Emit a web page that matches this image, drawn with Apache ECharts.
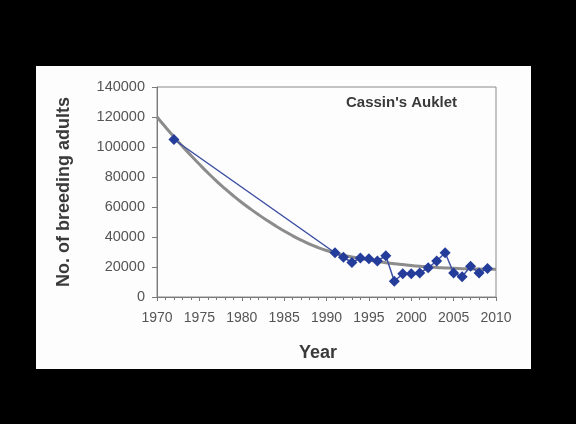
<!DOCTYPE html>
<html>
<head>
<meta charset="utf-8">
<script src="https://cdn.jsdelivr.net/npm/echarts@6/dist/echarts.min.js"></script>
<style>
  html, body { margin: 0; padding: 0; background: #000; }
  #chart { width: 576px; height: 424px; }
</style>
</head>
<body>
<div id="chart"></div>
<script>
// Cassin's Auklet breeding population counts
const years = [1972, 1991, 1992, 1993, 1994, 1995, 1996, 1997, 1998, 1999,
               2000, 2001, 2002, 2003, 2004, 2005, 2006, 2007, 2008, 2009];
const adults = [105000, 29500, 26500, 23000, 26000, 25500, 24000, 27500, 10500, 15500,
                15500, 16000, 19500, 24000, 29500, 16000, 13500, 20500, 16000, 19000];

// Fitted trend, one value per year
const trendYears = [1970, 1971, 1972, 1973, 1974, 1975, 1976, 1977, 1978, 1979,
                    1980, 1981, 1982, 1983, 1984, 1985, 1986, 1987, 1988, 1989,
                    1990, 1991, 1992, 1993, 1994, 1995, 1996, 1997, 1998, 1999,
                    2000, 2001, 2002, 2003, 2004, 2005, 2006, 2007, 2008, 2009, 2010];
const trendValues = [120000, 113300, 106800, 100500, 94400, 88500, 82800, 77400, 72300, 67500,
                     63000, 58800, 54800, 51000, 47400, 44000, 40800, 37900, 35300, 33000,
                     31000, 29300, 27900, 26700, 25600, 24600, 23700, 22900, 22200, 21600,
                     21000, 20500, 20100, 19700, 19400, 19100, 18900, 18700, 18600, 18500, 18500];

const yTicks = [0, 20000, 40000, 60000, 80000, 100000, 120000, 140000];
const xTicks = [1970, 1975, 1980, 1985, 1990, 1995, 2000, 2005, 2010];

const chart = echarts.init(document.getElementById('chart'), null, { renderer: 'canvas' });
const font = '"Liberation Sans", Arial, sans-serif';

chart.setOption({
  backgroundColor: '#000',
  animation: false,
  graphic: [
    { type: 'rect', z: -10, shape: { x: 36, y: 66, width: 495, height: 303 },
      style: { fill: '#fdfdfd' } },
    { type: 'text', left: 299, top: 344, z: 10,
      style: { text: 'Year', font: 'bold 18px ' + font, fill: '#3a3a3a' } },
    { type: 'text', left: 346, top: 95, z: 10,
      style: { text: "Cassin's Auklet", font: 'bold 15px ' + font, fill: '#3a3a3a' } }
  ],
  grid: {
    left: 157, top: 87, width: 339, height: 210,
    show: true, borderColor: '#8a8a8a', borderWidth: 1, backgroundColor: 'transparent'
  },
  xAxis: {
    type: 'value', min: xTicks[0], max: xTicks[xTicks.length - 1], interval: 5,
    axisLine: { show: true, lineStyle: { color: '#7a7a7a', width: 1 } },
    axisTick: { show: true, length: 4, lineStyle: { color: '#7a7a7a' } },
    minorTick: { show: true, splitNumber: 5, length: 3, lineStyle: { color: '#7a7a7a' } },
    splitLine: { show: false },
    axisLabel: { color: '#555', fontFamily: font, fontSize: 14, margin: 14,
                 formatter: v => String(v) }
  },
  yAxis: {
    type: 'value', min: yTicks[0], max: yTicks[yTicks.length - 1], interval: 20000,
    name: 'No. of breeding adults', nameLocation: 'middle', nameGap: 84, nameRotate: 90,
    nameTextStyle: { color: '#3a3a3a', fontFamily: font, fontSize: 18, fontWeight: 'bold' },
    axisLine: { show: true, lineStyle: { color: '#7a7a7a', width: 1 } },
    axisTick: { show: true, length: 5, lineStyle: { color: '#7a7a7a' } },
    splitLine: { show: false },
    axisLabel: { color: '#555', fontFamily: font, fontSize: 14.5, margin: 12,
                 formatter: v => String(v) }
  },
  series: [
    {
      name: 'trend', type: 'line', smooth: true, showSymbol: false, z: 2,
      data: trendYears.map((y, i) => [y, trendValues[i]]),
      lineStyle: { color: '#8c8c8c', width: 3 }
    },
    {
      name: 'adults', type: 'line', z: 3,
      data: years.map((y, i) => [y, adults[i]]),
      symbol: 'diamond', symbolSize: 11,
      lineStyle: { color: '#3d4fa3', width: 1.5 },
      itemStyle: { color: '#243c9a' }
    }
  ]
});
</script>
</body>
</html>
